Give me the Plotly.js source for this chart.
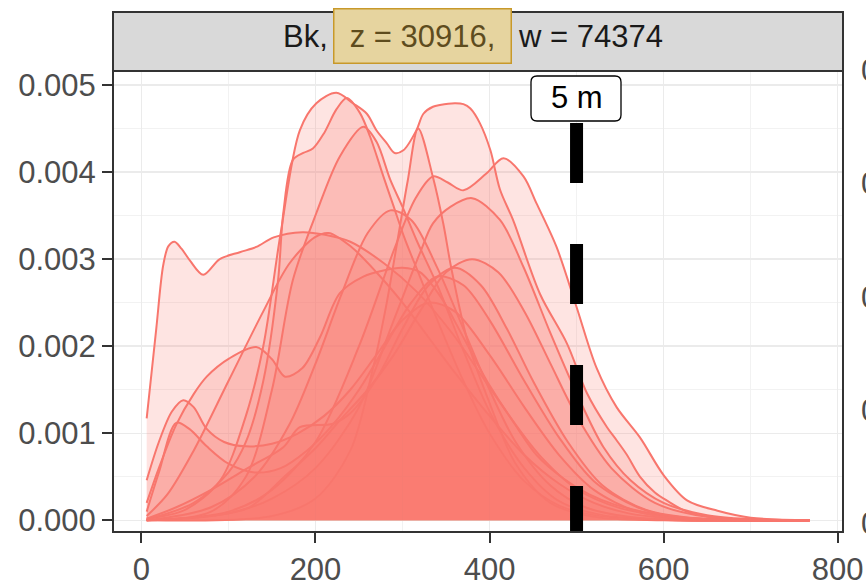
<!DOCTYPE html>
<html>
<head>
<meta charset="utf-8">
<script src="https://cdn.plot.ly/plotly-3.0.1.min.js"></script>
<style>
  html, body { margin: 0; padding: 0; background: #ffffff; }
  #chart { width: 866px; height: 588px; }
</style>
</head>
<body>
<div id="chart"></div>
<script>
// Kernel density estimates (density in units of 1e-3) for the Bk group, one per track.
const dens01X = [6,17,25,31,38,46,56,71,90,113,132,152,185,211,240,279,316,357,393,426,454,485,514,544,592,641,690,768];
const dens01Y = [1.17,2.2,2.93,3.15,3.2,3.12,2.98,2.82,3.0,3.08,3.14,3.25,3.31,3.28,3.2,2.95,2.63,2.15,1.63,1.15,0.75,0.48,0.3,0.18,0.07,0.02,0.005,0];

const dens02X = [6,50,90,120,140,160,182,201,224,243,259,270,282,291,301,316,324,335,343,360,370,378,389,401,412,427,458,489,512,535,546,558,573,590,605,627,660,700,768];
const dens02Y = [0.02,0.12,0.45,1.2,2.0,3.3,4.48,4.79,4.91,4.79,4.67,4.48,4.33,4.22,4.25,4.48,4.67,4.75,4.77,4.79,4.78,4.73,4.56,4.25,3.8,3.45,2.6,2.03,1.46,1.07,0.92,0.75,0.5,0.32,0.22,0.1,0.03,0.01,0];

const dens03X = [6,60,100,120,140,157,163,174,186,197,210,224,236,251,263,278,290,302,320,340,370,400,440,480,520,570,620,680,768];
const dens03Y = [0.01,0.2,0.55,0.9,1.6,2.76,3.53,4.14,4.22,4.27,4.45,4.72,4.85,4.68,4.4,3.95,3.6,3.25,2.8,2.3,1.6,1.0,0.45,0.17,0.06,0.015,0,0,0];

const dens04X = [6,80,120,150,174,201,228,255,270,286,300,316,340,370,400,440,480,530,600,680,768];
const dens04Y = [0,0.1,0.5,1.5,2.76,3.53,4.18,4.52,4.35,3.91,3.6,3.22,2.7,1.95,1.25,0.6,0.22,0.06,0.01,0,0];

const dens05X = [6,150,200,240,265,280,293,306,318,335,347,356,375,400,430,470,520,600,768];
const dens05Y = [0,0.05,0.25,0.8,1.7,2.4,3.14,3.9,4.5,3.94,3.4,2.9,2.05,1.35,0.65,0.2,0.04,0,0];

const dens06X = [6,100,150,200,250,290,315,335,352,370,396,416,439,454,477,500,523,546,573,600,627,662,700,768];
const dens06Y = [0,0.1,0.35,0.9,2.0,3.1,3.7,3.95,3.88,3.79,3.98,4.16,3.95,3.64,3.14,2.45,1.75,1.3,0.95,0.52,0.23,0.11,0.03,0];

const dens07X = [6,100,150,200,250,290,320,335,355,380,412,439,470,500,531,562,600,650,700,768];
const dens07Y = [0,0.08,0.25,0.6,1.3,2.3,3.07,3.41,3.6,3.7,3.45,2.91,2.15,1.46,0.84,0.46,0.2,0.06,0.015,0];

const dens08X = [6,20,40,60,75,101,132,150,165,185,205,228,255,278,300,320,345,370,400,430,460,500,550,600,660,768];
const dens08Y = [0.2,0.6,1.1,1.45,1.65,1.86,1.99,1.85,1.65,1.75,2.1,2.61,2.8,2.87,2.9,2.85,2.55,2.1,1.55,1.1,0.72,0.36,0.14,0.05,0.01,0];

const dens09X = [6,30,60,100,140,170,199,215,240,270,300,330,360,400,440,480,520,560,600,650,768];
const dens09Y = [0.05,0.3,0.8,1.6,2.4,2.95,3.25,3.3,3.15,2.85,2.5,2.1,1.7,1.2,0.75,0.42,0.2,0.08,0.03,0.01,0];

const dens10X = [6,80,130,170,200,230,260,286,310,340,370,400,430,470,510,560,620,768];
const dens10Y = [0,0.15,0.5,1.1,1.8,2.6,3.3,3.56,3.45,2.9,2.2,1.5,0.9,0.4,0.15,0.04,0,0];

const dens11X = [6,20,35,48,60,75,95,120,150,180,210,240,270,300,330,360,400,440,480,520,570,620,768];
const dens11Y = [0.46,0.9,1.25,1.38,1.3,1.05,0.9,0.85,0.88,1.0,1.2,1.5,1.9,2.3,2.5,2.4,1.9,1.3,0.75,0.35,0.1,0.02,0];

const dens12X = [6,20,40,55,75,100,130,160,190,220,250,280,310,340,370,400,440,480,520,570,620,768];
const dens12Y = [0.1,0.55,1.12,1.05,0.85,0.65,0.55,0.6,0.8,1.1,1.5,2.0,2.5,2.8,2.7,2.3,1.6,0.95,0.45,0.15,0.03,0];

const dens13X = [6,80,124,163,201,228,260,290,320,350,380,410,440,470,500,540,590,650,768];
const dens13Y = [0,0.05,0.15,0.49,0.84,1.15,1.5,1.9,2.4,2.85,3.0,2.85,2.4,1.8,1.2,0.6,0.2,0.04,0];

const dens14X = [6,40,80,124,163,182,220,240,271,300,330,360,390,420,450,490,530,580,640,768];
const dens14Y = [0.02,0.15,0.35,0.61,0.84,1.07,1.11,1.23,1.64,2.2,2.7,2.9,2.7,2.2,1.6,0.9,0.4,0.12,0.02,0];

const densityX = [dens01X,dens02X,dens03X,dens04X,dens05X,dens06X,dens07X,dens08X,dens09X,dens10X,dens11X,dens12X,dens13X,dens14X];
const densityY = [dens01Y,dens02Y,dens03Y,dens04Y,dens05Y,dens06Y,dens07Y,dens08Y,dens09Y,dens10Y,dens11Y,dens12Y,dens13Y,dens14Y];

// Facet strip and reference line
const stripGroup = "Bk,";
const stripZ = "z = 30916,";
const stripW = "w = 74374";
const refLineX = 500;
const refLineLabel = "5 m";

// Tick labels of the neighbouring panel, cut by the page edge
const neighbourTicks = ["0.004", "0.003", "0.002", "0.001", "0.000"];

const xTicks = [0, 200, 400, 600, 800];
const yTicks = [0, 0.001, 0.002, 0.003, 0.004, 0.005];

const FONT = "Liberation Sans, Arial, Helvetica, sans-serif";
const LINE = "#F8766D";
const FILL = "rgba(248,118,109,0.2)";

const traces = densityX.map((xs, i) => ({
  type: "scatter",
  mode: "lines",
  x: xs,
  y: densityY[i].map(v => v * 1e-3),
  line: { color: LINE, width: 2, shape: "spline", smoothing: 0.9 },
  fill: "tozeroy",
  fillcolor: FILL,
  hoverinfo: "skip",
  showlegend: false
}));

// plot area spans 113..843 px horizontally and 71..532 px vertically
const plotTop = 71, plotBottom = 532, plotLeft = 113, plotRight = 843;
const pw = plotRight - plotLeft, ph = plotBottom - plotTop;
const px2paperX = p => (p - plotLeft) / pw;
const px2paperY = p => (plotBottom - p) / ph;

// rounded label box (geom_label style), built in paper units
function roundedBox(x0, y0, x1, y1, r) {
  const X = px2paperX, Y = px2paperY;
  return "M " + X(x0 + r) + "," + Y(y0) +
    " L " + X(x1 - r) + "," + Y(y0) +
    " Q " + X(x1) + "," + Y(y0) + " " + X(x1) + "," + Y(y0 + r) +
    " L " + X(x1) + "," + Y(y1 - r) +
    " Q " + X(x1) + "," + Y(y1) + " " + X(x1 - r) + "," + Y(y1) +
    " L " + X(x0 + r) + "," + Y(y1) +
    " Q " + X(x0) + "," + Y(y1) + " " + X(x0) + "," + Y(y1 - r) +
    " L " + X(x0) + "," + Y(y0 + r) +
    " Q " + X(x0) + "," + Y(y0) + " " + X(x0 + r) + "," + Y(y0) + " Z";
}

const neighbourRows = [70, 183, 297, 410, 523];

const annotations = [
  {
    xref: "paper", yref: "paper", x: px2paperX(330), y: px2paperY(37),
    xanchor: "right", yanchor: "middle", showarrow: false,
    text: stripGroup, font: { family: FONT, size: 31, color: "#1A1A1A" }
  },
  {
    xref: "paper", yref: "paper", x: px2paperX(422.5), y: px2paperY(36),
    xanchor: "center", yanchor: "middle", showarrow: false,
    text: stripZ, font: { family: FONT, size: 31, color: "#5E4C1E" },
    bgcolor: "#E6D49F", bordercolor: "#C8992A", borderwidth: 1.5,
    width: 170, height: 47, borderpad: 3
  },
  {
    xref: "paper", yref: "paper", x: px2paperX(516), y: px2paperY(37),
    xanchor: "left", yanchor: "middle", showarrow: false,
    text: stripW, font: { family: FONT, size: 31, color: "#1A1A1A" }
  },
  {
    xref: "x", yref: "paper", x: refLineX, y: px2paperY(98),
    xanchor: "center", yanchor: "middle", showarrow: false,
    text: refLineLabel, font: { family: FONT, size: 31, color: "#000000" }
  }
].concat(neighbourTicks.map((t, i) => ({
  xref: "paper", yref: "paper", x: px2paperX(859), y: px2paperY(neighbourRows[i]),
  xanchor: "left", yanchor: "middle", showarrow: false,
  text: t, font: { family: FONT, size: 31, color: "#4D4D4D" }
})));

const shapes = [
  // facet strip
  {
    type: "rect", xref: "paper", yref: "paper",
    x0: 0, x1: 1, y0: 1, y1: px2paperY(12),
    fillcolor: "#D9D9D9", line: { color: "#333333", width: 2 }, layer: "above"
  },
  // dashed reference line
  {
    type: "line", xref: "x", yref: "paper",
    x0: refLineX, x1: refLineX, y0: px2paperY(123), y1: 0,
    line: { color: "#000000", width: 13, dash: "60px,61px" }, layer: "above"
  },
  // label box of the reference line
  {
    type: "path", xref: "paper", yref: "paper",
    path: roundedBox(531, 76, 621, 121, 6),
    fillcolor: "#FFFFFF", line: { color: "#000000", width: 1.3 }, layer: "above"
  },
  // panel border
  {
    type: "rect", xref: "paper", yref: "paper",
    x0: 0, x1: 1, y0: 0, y1: 1,
    fillcolor: "rgba(0,0,0,0)", line: { color: "#333333", width: 2 }, layer: "above"
  }
];

const layout = {
  width: 866, height: 588,
  margin: { l: plotLeft, r: 866 - plotRight, t: plotTop, b: 588 - plotBottom, pad: 0 },
  paper_bgcolor: "#FFFFFF", plot_bgcolor: "#FFFFFF",
  font: { family: FONT, size: 31, color: "#4D4D4D" },
  xaxis: {
    range: [-32.7, 806.2], tickvals: xTicks, ticktext: xTicks.map(String),
    showgrid: true, gridcolor: "#EBEBEB", gridwidth: 1.5,
    minor: { dtick: 100, showgrid: true, gridcolor: "#F2F2F2", gridwidth: 1, ticks: "" },
    zeroline: false, showline: false,
    ticks: "outside", ticklen: 10, tickwidth: 2, tickcolor: "#333333",
    tickfont: { family: FONT, size: 31, color: "#4D4D4D" }
  },
  yaxis: {
    range: [-0.000134, 0.005161], tickvals: yTicks, tickformat: ".3f",
    showgrid: true, gridcolor: "#EBEBEB", gridwidth: 1.5,
    minor: { dtick: 0.0005, showgrid: true, gridcolor: "#F2F2F2", gridwidth: 1, ticks: "" },
    zeroline: false, showline: false,
    ticks: "outside", ticklen: 10, tickwidth: 2, tickcolor: "#333333",
    tickfont: { family: FONT, size: 31, color: "#4D4D4D" }
  },
  shapes: shapes,
  annotations: annotations,
  showlegend: false
};

Plotly.newPlot("chart", traces, layout, { displayModeBar: false, staticPlot: true });
</script>
</body>
</html>
